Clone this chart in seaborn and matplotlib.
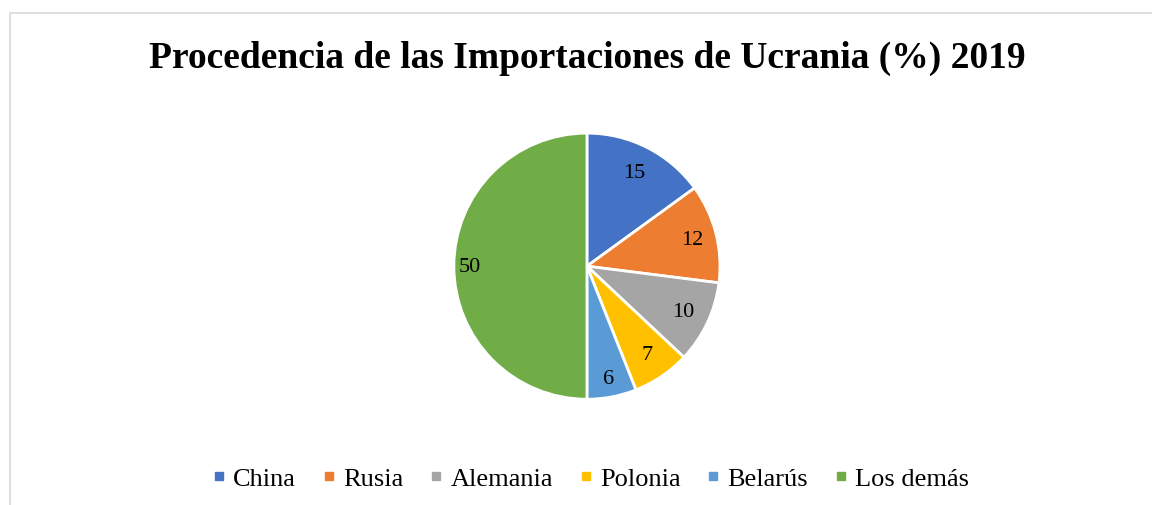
import matplotlib
matplotlib.use("Agg")
import matplotlib.pyplot as plt
import numpy as np
import seaborn as sns
from matplotlib.patches import Rectangle
from matplotlib.lines import Line2D

# data
paises = ["China", "Rusia", "Alemania", "Polonia", "Belarús", "Los demás"]
valores = [15, 12, 10, 7, 6, 50]
colores = ["#4472C4", "#ED7D31", "#A5A5A5", "#FFC000", "#5B9BD5", "#70AD47"]
titulo = "Procedencia de las Importaciones de Ucrania (%) 2019"

sns.set_theme(style="white")
plt.rcParams["font.family"] = ["Liberation Serif", "DejaVu Serif"]
plt.rcParams["text.color"] = "black"

fig = plt.figure(figsize=(11.52, 5.06), dpi=100)
fig.patch.set_facecolor("white")

# thin grey frame like the excel chart area
fig.add_artist(Rectangle((10 / 1152, -0.1), 1.2, 1.1 - 14 / 506,
                         transform=fig.transFigure, fill=False,
                         edgecolor="#D9D9D9", linewidth=1.2))

ax = fig.add_axes([0.5095 - 0.1155, 0.472 - 0.263, 0.231, 0.526])
pal = sns.color_palette(colores)
wedges, _ = ax.pie(valores, colors=pal, startangle=90, counterclock=False,
                   radius=1.0, wedgeprops=dict(edgecolor="white", linewidth=2))
ax.set_xlim(-1, 1)
ax.set_ylim(-1, 1)
ax.set_aspect("equal")
ax.axis("off")

# value labels inside the slices
dist = [0.79, 0.82, 0.8, 0.8, 0.86, 0.88]
for w, v, d in zip(wedges, valores, dist):
    ang = np.deg2rad((w.theta1 + w.theta2) / 2)
    ax.text(d * np.cos(ang), d * np.sin(ang), str(v), ha="center", va="center",
            fontsize=16, color="black")

fig.text(0.5095, 1 - 68 / 506, titulo, ha="center", va="baseline",
         fontsize=27, fontweight="bold", color="black")

handles = [Line2D([0], [0], marker="s", linestyle="", markersize=6,
                  markerfacecolor=c, markeredgecolor=c) for c in colores]
leg = fig.legend(handles, paises, loc="center", bbox_to_anchor=(0.514, 1 - 479 / 506),
                 ncol=6, frameon=False, fontsize=19, handletextpad=0.38,
                 columnspacing=1.1, handlelength=0.3)
for t in leg.get_texts():
    t.set_color("black")

fig.savefig("out.png", dpi=100)
